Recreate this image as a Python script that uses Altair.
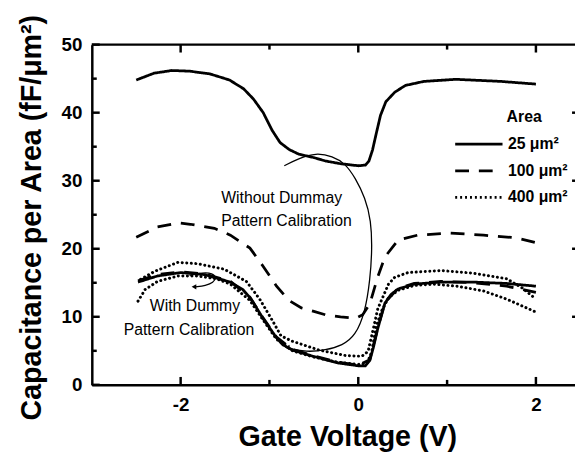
import altair as alt
import pandas as pd

FONT = "Liberation Sans"

# ---- data ----
areas = ["25 μm²", "100 μm²", "400 μm²"]

# 25 um^2, without dummy calibration (solid, top)
a_x = [-2.5, -2.3, -2.1, -1.9, -1.67, -1.45, -1.29, -1.18, -1.07, -0.97, -0.88, -0.78, -0.67, -0.5, -0.37, -0.2,
       0.0, 0.08, 0.12, 0.16, 0.2, 0.25, 0.31, 0.41, 0.53, 0.74, 1.1, 1.6, 2.0]
a_y = [44.8, 45.8, 46.2, 46.1, 45.7, 44.8, 43.5, 42.0, 40.0, 37.4, 35.6, 34.6, 33.9, 33.4, 32.9, 32.5,
       32.2, 32.3, 32.9, 34.5, 36.8, 39.6, 41.6, 43.0, 44.0, 44.6, 44.9, 44.6, 44.2]

# 100 um^2, without dummy calibration (dashed)
b_x = [-2.5, -2.26, -2.03, -1.89, -1.62, -1.44, -1.22, -1.07, -0.92, -0.78, -0.64, -0.5, -0.37, -0.2, -0.03,
       0.05, 0.13, 0.22, 0.3, 0.45, 0.67, 1.04, 1.41, 1.78, 2.0]
b_y = [21.7, 23.2, 23.8, 23.6, 23.0, 22.0, 20.1, 17.4, 14.5, 12.4, 11.3, 10.8, 10.3, 10.0, 9.8,
       10.3, 11.9, 15.9, 18.8, 21.3, 22.0, 22.3, 22.0, 21.6, 20.9]

# 25 um^2, with dummy calibration (solid, bottom)
c_x = [-2.48, -2.26, -2.0, -1.73, -1.44, -1.3, -1.22, -1.14, -1.07, -1.0, -0.92, -0.85, -0.74, -0.51, -0.22,
       0.0, 0.08, 0.13, 0.17, 0.22, 0.3, 0.37, 0.45, 0.63, 0.93, 1.3, 1.67, 2.0]
c_y = [15.1, 16.0, 16.5, 16.2, 15.1, 14.0, 12.8, 11.2, 9.7, 8.4, 6.9, 5.9, 5.1, 4.2, 3.2,
       2.8, 2.8, 3.6, 5.5, 8.3, 12.0, 13.3, 14.1, 14.8, 15.1, 15.1, 14.9, 14.5]

# 100 um^2, with dummy calibration (dashed, mostly under the solid one)
f_x = [-2.48, -2.26, -2.0, -1.73, -1.44, -1.22, -1.07, -0.92, -0.74, -0.51, -0.22,
       0.0, 0.13, 0.22, 0.3, 0.45, 0.63, 0.93, 1.3, 1.67, 2.0]
f_y = [15.3, 16.2, 16.6, 16.3, 15.2, 12.9, 9.8, 7.0, 5.2, 4.3, 3.3,
       2.9, 3.7, 8.4, 12.1, 14.2, 14.9, 15.2, 15.0, 14.5, 13.6]

# 400 um^2 curves (dotted)
d_x = [-2.45, -2.29, -2.03, -1.81, -1.51, -1.26, -1.11, -0.96, -0.87, -0.74, -0.44, -0.14, 0.04, 0.11, 0.17,
       0.22, 0.28, 0.34, 0.41, 0.56, 0.93, 1.3, 1.67, 1.85, 2.0]
d_y = [15.5, 16.7, 18.0, 17.8, 17.0, 15.2, 12.6, 9.3, 7.2, 6.4, 5.1, 4.3, 4.2, 4.9, 8.3,
       11.2, 13.0, 14.8, 15.8, 16.5, 16.8, 16.4, 15.6, 14.2, 12.6]
e_x = [-2.48, -2.4, -2.26, -2.03, -1.81, -1.6, -1.44, -1.22, -1.07, -0.92, -0.74, -0.51, -0.22, 0.0, 0.1,
       0.15, 0.2, 0.26, 0.34, 0.45, 0.63, 0.85, 1.11, 1.41, 1.67, 2.0]
e_y = [12.3, 14.0, 15.2, 16.0, 16.0, 15.6, 14.8, 12.4, 9.5, 6.7, 5.0, 4.1, 3.3, 3.0, 3.2,
       4.8, 8.5, 10.8, 12.8, 13.9, 14.6, 14.8, 14.5, 13.8, 12.6, 10.7]

# hand-drawn annotation loops
loop1_x = [-0.833, -0.667, -0.478, -0.289, -0.144, -0.033, 0.078, 0.144, 0.156, 0.133, 0.078, -0.033,
           -0.178, -0.367, -0.589, -0.778]
loop1_y = [32.2, 33.3, 34.1, 33.6, 32.5, 30.4, 27.5, 24.2, 19.9, 15.5, 10.7, 7.2, 5.8, 5.1, 4.8, 5.4]
loop2_x = [-1.9, -1.75, -1.64, -1.6, -1.63, -1.72, -1.83]
loop2_y = [16.1, 16.5, 16.4, 15.8, 15.0, 14.6, 14.4]
head_x = [-0.80, -1.85]
head_y = [5.5, 14.4]

ann_left_text = ["Without Dummay", "Pattern Calibration"]
ann_left_x = [-1.544, -1.544]
ann_left_y = [27.5, 24.0]
ann_ctr_text = ["With Dummy", "Pattern Calibration"]
ann_ctr_x = [-1.839, -1.906]
ann_ctr_y = [11.6, 8.0]
legend_title = ["Area"]
legend_title_x = [1.67]
legend_title_y = [39.4]

x_major = [-2, 0, 2]
x_minor = [-1, 1]
y_major = [0, 10, 20, 30, 40, 50]
y_minor = [5, 15, 25, 35, 45]
y_right = [10, 20, 30, 40]


def frame(curves):
    rows = []
    for cid, area, xs_, ys_ in curves:
        for i, (x, y) in enumerate(zip(xs_, ys_)):
            rows.append({"curve": cid, "area": area, "v": x, "c": y, "i": i})
    return pd.DataFrame(rows)


df_main = frame([("A", areas[0], a_x, a_y), ("B", areas[1], b_x, b_y),
                 ("C", areas[0], c_x, c_y), ("F", areas[1], f_x, f_y)])
df_dot = frame([("D", areas[2], d_x, d_y), ("E", areas[2], e_x, e_y)])
df_loop = frame([("L1", "", loop1_x, loop1_y), ("L2", "", loop2_x, loop2_y)])
df_head = pd.DataFrame({"v": head_x, "c": head_y})

W, H = 490, 345
xs = alt.Scale(domain=[-3, 2.44], nice=False, zero=False)
ys = alt.Scale(domain=[0, 50], nice=False, zero=True)

x_axis = alt.Axis(values=x_major, ticks=False, grid=False, domainColor="black", domainWidth=2.5,
                  labelFont=FONT, labelFontSize=19, labelFontWeight="bold", labelColor="black",
                  labelPadding=11, labelExpr="'' + datum.value",
                  title="Gate Voltage (V)", titleFont=FONT, titleFontSize=29, titleFontWeight="bold",
                  titleColor="black", titleX=259, titleY=53, titleAlign="center", titleBaseline="middle")
y_axis = alt.Axis(values=y_major, ticks=False, grid=False, domainColor="black", domainWidth=2.5,
                  labelFont=FONT, labelFontSize=19, labelFontWeight="bold", labelColor="black",
                  labelPadding=10,
                  title="Capacitance per Area (fF/μm²)", titleFont=FONT, titleFontSize=29,
                  titleFontWeight="bold", titleColor="black", titleX=-61, titleY=175, titleAngle=270,
                  titleAlign="center", titleBaseline="middle")


def X(f):
    return alt.X(f, scale=xs, axis=x_axis)


def Y(f):
    return alt.Y(f, scale=ys, axis=y_axis)


legend = alt.Legend(title=None, orient="none", legendX=367, legendY=93, padding=0,
                    labelFont=FONT, labelFontSize=16, labelFontWeight="bold", labelColor="black",
                    labelOffset=4, symbolType="stroke", symbolSize=2304, symbolStrokeWidth=2.8,
                    symbolStrokeColor="black", clipHeight=16, rowPadding=11)

main = alt.Chart(df_main).mark_line(color="black", strokeWidth=2.8, clip=True).encode(
    x=X("v:Q"), y=Y("c:Q"),
    strokeDash=alt.StrokeDash("area:N", scale=alt.Scale(domain=areas, range=[[1, 0], [14, 10], [2, 3]]),
                              legend=legend),
    detail="curve:N",
    order="i:Q",
)

dots = alt.Chart(df_dot).mark_line(color="black", strokeWidth=3, strokeCap="round", clip=True).encode(
    x=X("v:Q"), y=Y("c:Q"),
    strokeDash=alt.value([0.1, 4.5]),
    detail="curve:N",
    order="i:Q",
)

loops = alt.Chart(df_loop).mark_line(color="black", strokeWidth=1.3, interpolate="basis").encode(
    x=X("v:Q"), y=Y("c:Q"),
    detail="curve:N",
    order="i:Q",
)

heads = alt.Chart(df_head).mark_point(shape="triangle-left", filled=True, color="black", size=30,
                                      opacity=1).encode(x=X("v:Q"), y=Y("c:Q"))

txt_left = alt.Chart(pd.DataFrame({"t": ann_left_text, "v": ann_left_x, "c": ann_left_y})).mark_text(
    font=FONT, fontSize=16, align="left", baseline="middle", color="black").encode(
    x=X("v:Q"), y=Y("c:Q"), text="t:N")

txt_ctr = alt.Chart(pd.DataFrame({"t": ann_ctr_text, "v": ann_ctr_x, "c": ann_ctr_y})).mark_text(
    font=FONT, fontSize=16, align="center", baseline="middle", color="black").encode(
    x=X("v:Q"), y=Y("c:Q"), text="t:N")

txt_leg = alt.Chart(pd.DataFrame({"t": legend_title, "v": legend_title_x, "c": legend_title_y})).mark_text(
    font=FONT, fontSize=16, fontWeight="bold", align="left", baseline="middle", color="black").encode(
    x=X("v:Q"), y=Y("c:Q"), text="t:N")

# frame top line and inward ticks
top_line = alt.Chart(pd.DataFrame({"c": [50]})).mark_rule(color="black", strokeWidth=2.5).encode(
    y=Y("c:Q"), x=alt.value(0), x2=alt.value(W))


def xticks(vals, y0, y1):
    return alt.Chart(pd.DataFrame({"v": vals})).mark_rule(color="black", strokeWidth=2.5).encode(
        x=X("v:Q"), y=alt.value(y0), y2=alt.value(y1))


def yticks(vals, x0, x1):
    return alt.Chart(pd.DataFrame({"c": vals})).mark_rule(color="black", strokeWidth=2.5).encode(
        y=Y("c:Q"), x=alt.value(x0), x2=alt.value(x1))


ticks = [
    xticks(x_major, H, H - 8), xticks(x_minor, H, H - 5),
    xticks(x_major, 0, 8), xticks(x_minor, 0, 5),
    yticks(y_major, 0, 8), yticks(y_minor, 0, 5),
    yticks(y_right, W - 3, W),
]

chart = alt.layer(main, dots, loops, heads, txt_left, txt_ctr, txt_leg, top_line, *ticks).properties(
    width=W, height=H,
    autosize=alt.AutoSizeParams(type="none"),
    padding={"left": 85, "top": 34, "right": 0, "bottom": 68},
    background="white",
).configure_view(stroke=None)

chart.save("out.html", embed_options={"renderer": "svg", "actions": False})
